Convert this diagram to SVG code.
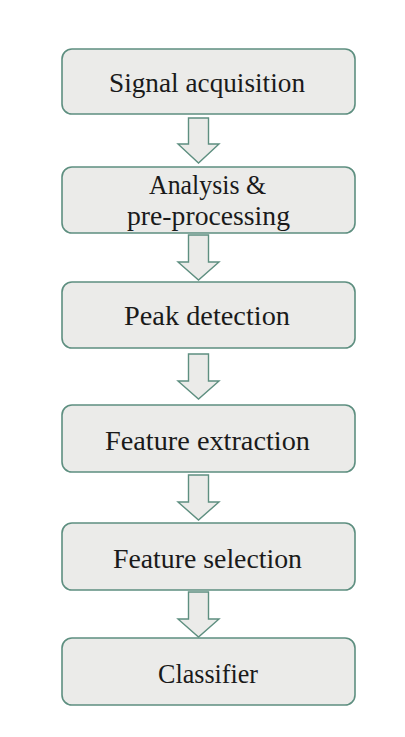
<svg xmlns="http://www.w3.org/2000/svg" width="405" height="737" viewBox="0 0 405 737">
<style>
.box{fill:#ebebe9;stroke:#5e8f80;stroke-width:1.6}
.arr{fill:#ebebe9;stroke:#5e8f80;stroke-width:1.4;stroke-linejoin:miter}
.t{font-family:"Liberation Serif","Times New Roman",serif;font-size:27px;fill:#1a1a1a;text-anchor:middle}
</style>
<rect width="405" height="737" fill="#ffffff"/>
<g id="connectors">
<path class="arr" d="M188.5,118 H208.5 V144 H219 L198.5,163 L178,144 H188.5 Z"/>
<path class="arr" d="M188.5,235 H208.5 V262 H219 L198.5,280 L178,262 H188.5 Z"/>
<path class="arr" d="M188.5,354 H208.5 V381 H219 L198.5,399 L178,381 H188.5 Z"/>
<path class="arr" d="M188.5,475 H208.5 V502 H219 L198.5,520 L178,502 H188.5 Z"/>
<path class="arr" d="M188.5,592 H208.5 V619 H219 L198.5,637 L178,619 H188.5 Z"/>
</g>
<g id="n1"><rect class="box" x="62" y="49" width="293" height="65" rx="10"/><text class="t" x="207" y="92" textLength="196" lengthAdjust="spacingAndGlyphs">Signal acquisition</text></g>
<g id="n2"><rect class="box" x="62" y="167" width="293" height="66" rx="10"/><text class="t" x="207.5" y="194" textLength="117" lengthAdjust="spacingAndGlyphs">Analysis &amp;</text><text class="t" x="208.5" y="225" textLength="163" lengthAdjust="spacingAndGlyphs">pre-processing</text></g>
<g id="n3"><rect class="box" x="62" y="282" width="293" height="66" rx="10"/><text class="t" x="207" y="325" textLength="166" lengthAdjust="spacingAndGlyphs">Peak detection</text></g>
<g id="n4"><rect class="box" x="62" y="405" width="293" height="67" rx="10"/><text class="t" x="207.5" y="450" textLength="205" lengthAdjust="spacingAndGlyphs">Feature extraction</text></g>
<g id="n5"><rect class="box" x="62" y="523" width="293" height="67" rx="10"/><text class="t" x="207.5" y="568" textLength="189" lengthAdjust="spacingAndGlyphs">Feature selection</text></g>
<g id="n6"><rect class="box" x="62" y="638" width="293" height="67" rx="10"/><text class="t" x="208" y="683" textLength="100" lengthAdjust="spacingAndGlyphs">Classifier</text></g>
</svg>
